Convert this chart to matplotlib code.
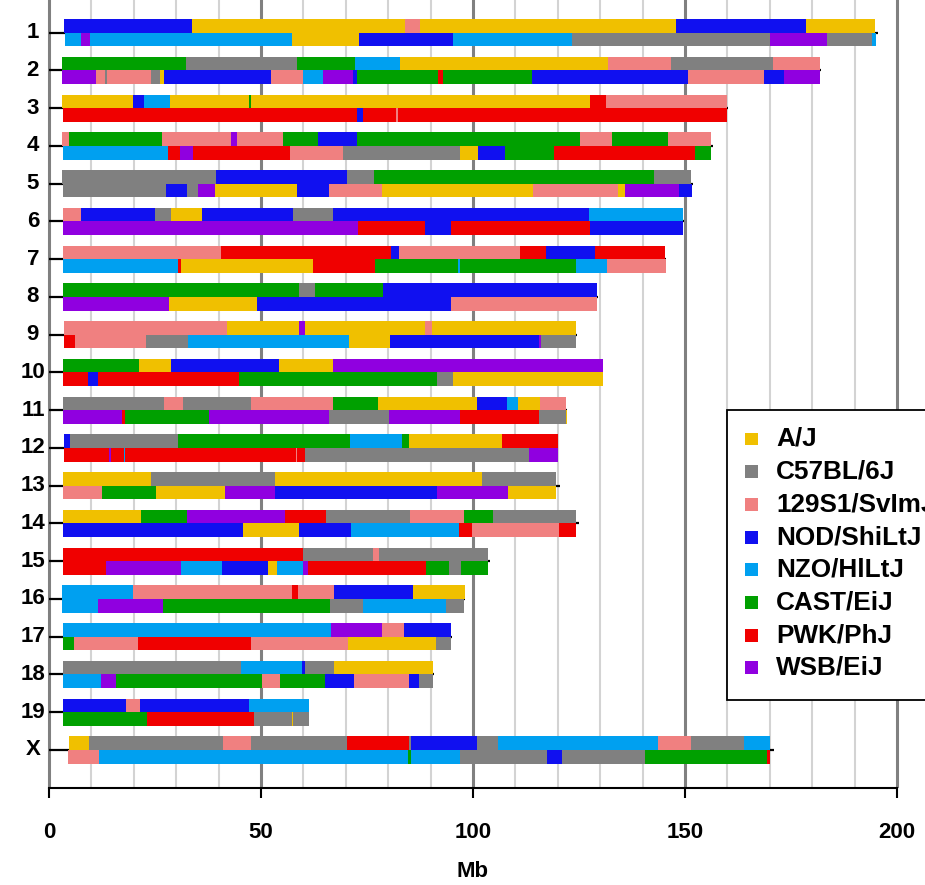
import matplotlib
matplotlib.use('Agg')
import matplotlib.pyplot as plt
from matplotlib.patches import Rectangle

plt.rcParams['font.family'] = ['Liberation Sans', 'DejaVu Sans']
plt.rcParams['font.weight'] = 'bold'

# founder strains, codes A-H
strain_codes = 'ABCDEFGH'
strain_names = ['A/J', 'C57BL/6J', '129S1/SvImJ', 'NOD/ShiLtJ', 'NZO/HlLtJ', 'CAST/EiJ', 'PWK/PhJ', 'WSB/EiJ']
strain_colors = ['#F0C000', '#808080', '#F08080', '#1010F0', '#00A0F0', '#00A000', '#F00000', '#9000E0']

chroms = ['1', '2', '3', '4', '5', '6', '7', '8', '9', '10',
          '11', '12', '13', '14', '15', '16', '17', '18', '19', 'X']
chrom_len = [195.47, 182.11, 160.04, 156.51, 151.83, 149.74, 145.44, 129.40, 124.60, 130.69,
             122.08, 120.13, 120.42, 124.90, 104.04, 98.21, 94.99, 90.70, 61.43, 171.03]

# haplotype 1 (upper bar): breakpoints (Mb) and founder of each segment
top_breaks = [
    [3.5, 33.7, 84.0, 87.5, 147.9, 178.5, 194.8],
    [3.1, 32.3, 58.5, 72.2, 82.8, 131.8, 146.7, 170.7, 181.8],
    [3.1, 19.8, 22.4, 28.5, 47.2, 47.6, 127.6, 131.4, 159.9],
    [3.1, 4.7, 26.7, 42.9, 44.3, 55.2, 63.4, 72.6, 125.2, 132.8, 146.0, 156.1],
    [3.1, 39.4, 70.3, 76.7, 142.7, 151.4],
    [3.3, 7.5, 25.0, 28.8, 36.1, 57.5, 67.0, 127.4, 149.5],
    [3.3, 40.6, 80.7, 82.5, 111.1, 117.2, 128.8, 145.2, 145.4],
    [3.3, 59.0, 62.7, 78.8, 129.2],
    [3.5, 42.0, 59.0, 60.4, 88.7, 90.3, 124.3],
    [3.3, 21.2, 28.8, 54.2, 67.0, 130.7],
    [3.3, 27.1, 31.6, 47.6, 67.0, 77.6, 100.9, 108.0, 110.6, 115.8, 122.0],
    [3.5, 5.0, 30.4, 71.0, 83.3, 84.9, 106.8, 120.0],
    [3.3, 24.1, 53.3, 102.1, 119.6],
    [3.3, 21.7, 32.5, 55.7, 65.3, 85.1, 97.9, 104.7, 124.3],
    [3.3, 59.9, 76.4, 77.8, 103.5],
    [3.1, 19.8, 57.3, 58.7, 67.2, 85.8, 98.1],
    [3.3, 66.5, 78.5, 83.7, 94.8],
    [3.3, 45.3, 59.7, 60.4, 67.2, 90.6],
    [3.3, 18.2, 21.5, 47.2, 61.3],
    [4.7, 9.4, 41.0, 47.6, 70.3, 84.9, 85.4, 100.9, 105.9, 143.6, 151.4, 163.9, 170.1],
]
top_codes = ['DACADA', 'FBFEACBC', 'ADEAFAGC', 'CFCHCFDFCFC', 'BDBFB', 'CDBADBDE',
             'CGDCGDGD', 'FBFD', 'CAHACA', 'FADAH', 'BCBCFADEAC', 'DBFEFAG', 'ABAB',
             'AFHGBCFB', 'GBCB', 'ECGCDA', 'EHCD', 'BEDBA', 'DCDE', 'ABCBGBDBECBE']

# haplotype 2 (lower bar)
bot_breaks = [
    [3.8, 7.5, 9.7, 57.3, 73.1, 95.3, 123.3, 170.0, 183.5, 194.0, 195.0],
    [3.1, 11.1, 13.2, 13.7, 24.1, 26.2, 27.1, 52.4, 59.9, 64.6, 71.7, 72.6, 91.7, 92.9,
     113.9, 150.7, 168.6, 173.3, 181.8],
    [3.3, 72.6, 74.1, 81.8, 82.3, 159.9],
    [3.3, 28.1, 30.9, 33.9, 56.8, 69.3, 96.9, 101.2, 107.5, 119.0, 152.4, 156.1],
    [3.3, 27.6, 32.5, 35.1, 39.2, 58.5, 66.0, 78.5, 114.2, 134.2, 135.9, 148.6, 151.7],
    [3.3, 72.9, 88.7, 94.8, 127.5, 149.5],
    [3.3, 30.4, 31.1, 62.3, 76.9, 96.5, 96.9, 124.3, 131.6, 145.5],
    [3.3, 28.3, 49.1, 94.8, 129.2],
    [3.5, 6.1, 22.9, 32.9, 70.8, 80.4, 115.6, 116.0, 124.3],
    [3.3, 9.3, 11.6, 44.8, 91.5, 95.3, 130.7],
    [3.3, 17.2, 17.9, 37.7, 66.0, 80.2, 96.9, 115.6, 122.0, 122.2],
    [3.5, 14.2, 14.6, 17.7, 17.9, 58.3, 58.5, 60.4, 113.2, 120.0],
    [3.3, 12.5, 25.2, 41.5, 53.3, 91.5, 108.3, 119.6],
    [3.3, 45.8, 59.0, 71.2, 96.7, 99.8, 120.3, 124.3],
    [3.3, 13.4, 31.1, 40.8, 51.7, 53.8, 59.9, 61.1, 88.9, 94.3, 97.2, 103.5],
    [3.1, 11.6, 26.9, 66.3, 74.1, 93.6, 97.9],
    [3.3, 5.9, 21.0, 47.6, 70.5, 91.3, 94.8],
    [3.3, 12.3, 15.8, 50.2, 54.5, 65.1, 71.9, 84.9, 87.3, 90.6],
    [3.3, 23.1, 48.3, 57.3, 57.5, 61.3],
    [4.5, 11.8, 84.7, 85.4, 96.9, 117.5, 121.0, 140.6, 169.3, 170.1],
]
bot_codes = ['EHEADEBHBE', 'HCBCBADCEHDFGFDCDH', 'GDGCG', 'EGHGCBADFGF', 'BDBHADCACAHD',
             'HGDGD', 'EGAGFEFEC', 'HADC', 'GCBEADHB', 'GDGFBA', 'HGFHBHGBA', 'GHGEGCGBH',
             'CFAHDHA', 'DADEGCG', 'GHEDAEHGFBF', 'EHFBEB', 'FCGCAB', 'EHFCFDCDB', 'FGBAB',
             'CEFEBDBFG']

W, H = 925, 885
fig = plt.figure(figsize=(W / 100, H / 100), dpi=100)

# pixel layout: 0 Mb at x=49, 4.24 px per Mb; chr1 centre y=32.7, 37.75 px per chromosome
px_per_mb = 4.24
x0 = 49
y_axis = 788
ax = fig.add_axes([0, (H - y_axis) / H, 1, y_axis / H])
ax.set_xlim(-x0 / px_per_mb, (W - x0) / px_per_mb)
ax.set_ylim((y_axis - 32.7) / 37.75, -32.7 / 37.75)

for g in range(0, 201, 10):
    if g % 50 == 0:
        ax.axvline(g, color='#808080', lw=2.2, zorder=0)
    else:
        ax.axvline(g, color='#D3D3D3', lw=1.5, zorder=0)

bh = 0.36
color_of = dict(zip(strain_codes, strain_colors))
for i in range(len(chroms)):
    ax.plot([0, chrom_len[i]], [i, i], color='black', lw=1.6, zorder=1, solid_capstyle='butt')
    for breaks, codes, y in [(top_breaks[i], top_codes[i], i - bh), (bot_breaks[i], bot_codes[i], i)]:
        for k, c in enumerate(codes):
            ax.barh(y, breaks[k + 1] - breaks[k], left=breaks[k], height=bh, align='edge',
                    color=color_of[c], linewidth=0, zorder=2)
    ax.text(-3.8, i, chroms[i], ha='center', va='center', fontsize=16, fontweight='bold')

for s in ['top', 'right', 'left']:
    ax.spines[s].set_visible(False)
ax.spines['bottom'].set_bounds(0, 200)
ax.spines['bottom'].set_linewidth(1.5)
ax.set_xticks([0, 50, 100, 150, 200])
ax.set_xticklabels(['0', '50', '100', '150', '200'], fontsize=16, fontweight='bold')
ax.tick_params(axis='x', length=7.5, width=1.5, pad=17)
ax.set_yticks([])

fig.text(473 / W, 1 - 861 / H, 'Mb', ha='center', va='top', fontsize=16, fontweight='bold')

# legend box (partly cut off at the right edge like the original)
def fx(p):
    return p / W

def fy(p):
    return 1 - p / H

fig.patches.append(Rectangle((fx(727), fy(700)), fx(260), (700 - 410) / H, transform=fig.transFigure,
                             facecolor='white', edgecolor='black', lw=1.3, zorder=5))
for k, name in enumerate(strain_names):
    yc = 439 + 32.7 * k
    fig.patches.append(Rectangle((fx(745), fy(yc + 6.5)), 13 / W, 13 / H, transform=fig.transFigure,
                                 facecolor=strain_colors[k], edgecolor='none', zorder=6))
    fig.text(fx(776), fy(yc), name, ha='left', va='center', fontsize=18.8, fontweight='bold', zorder=7)

fig.savefig('out.png', dpi=100)
